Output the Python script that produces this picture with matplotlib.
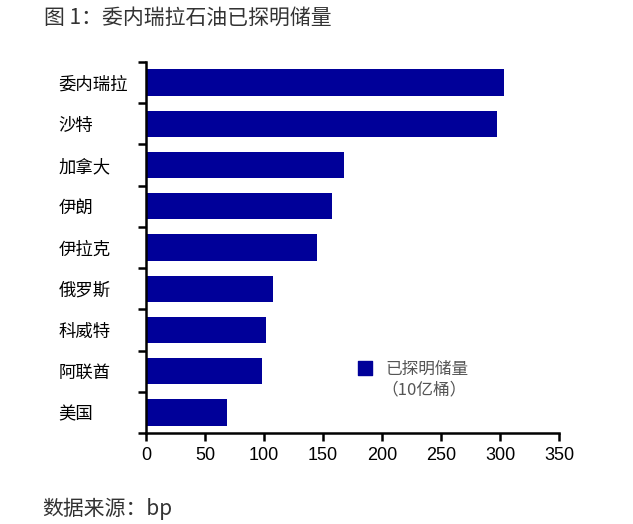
import matplotlib.pyplot as plt
import numpy as np

plt.rcParams['font.family'] = ['Noto Sans CJK SC', 'DejaVu Sans']

countries = ['委内瑞拉', '沙特', '加拿大', '伊朗', '伊拉克', '俄罗斯', '科威特', '阿联酋', '美国']
reserves = [303.7, 297.5, 168.2, 158.0, 145.1, 107.8, 101.6, 97.9, 68.6]
xticks = [0, 50, 100, 150, 200, 250, 300, 350]

bar_color = '#000099'

fig = plt.figure(figsize=(6.33, 5.24), dpi=100)
ax = fig.add_axes([146 / 633, 1 - 433 / 524, (559 - 146) / 633, (433 - 62) / 524])

y = np.arange(len(countries))
ax.barh(y, reserves, height=0.64, color=bar_color)

ax.set_xlim(0, 350)
ax.set_ylim(len(countries) - 0.5, -0.5)
ax.set_xticks(xticks)
ax.set_xticklabels([str(v) for v in xticks], family='Liberation Sans', fontsize=13)

# category labels sit left aligned, ticks mark the boundaries
ax.set_yticks(y)
ax.set_yticklabels(countries, fontsize=12.5, ha='left')
ax.tick_params(axis='y', which='major', length=0, pad=63)
ax.set_yticks(np.arange(-0.5, len(countries)), minor=True)
ax.tick_params(axis='y', which='minor', length=6, width=1.8, direction='out')
ax.tick_params(axis='x', length=6, width=1.8, direction='out', pad=4)

for s in ['top', 'right']:
    ax.spines[s].set_visible(False)
for s in ['left', 'bottom']:
    ax.spines[s].set_linewidth(1.8)

# legend drawn by hand to match the layout
ax.scatter([185.4], [6.92], marker='s', s=100, color=bar_color, clip_on=False)
ax.text(203, 6.95, '已探明储量', fontsize=12, color='#555555', va='center', ha='left')
ax.text(236, 7.45, '（10亿桶）', fontsize=12, color='#555555', va='center', ha='center')

fig.text(44 / 633, 1 - 18 / 524, '图 1：委内瑞拉石油已探明储量', fontsize=15, color='#333333', va='center', ha='left')
fig.text(42 / 633, 1 - 509 / 524, '数据来源：bp', fontsize=15, color='#333333', va='center', ha='left')

fig.savefig('out.png', dpi=100)
